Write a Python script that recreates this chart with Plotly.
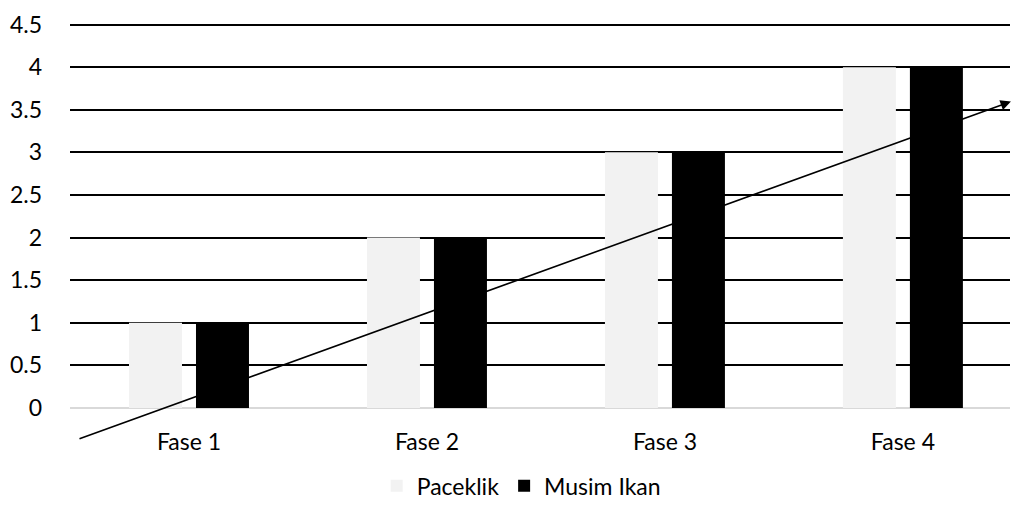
import plotly.graph_objects as go

# Data
fase = ["Fase 1", "Fase 2", "Fase 3", "Fase 4"]
paceklik = [1, 2, 3, 4]
musim_ikan = [1, 2, 3, 4]
y_ticks = [0, 0.5, 1, 1.5, 2, 2.5, 3, 3.5, 4, 4.5]
y_tick_text = ["0", "0.5", "1", "1.5", "2", "2.5", "3", "3.5", "4", "4.5"]

FONT = "Lato, 'Open Sans', sans-serif"
FSIZE = 23

fig = go.Figure()
fig.add_trace(go.Bar(
    name="Paceklik", x=fase, y=paceklik,
    marker=dict(color="#f2f2f2", line=dict(width=0)),
))
fig.add_trace(go.Bar(
    name="Musim Ikan", x=fase, y=musim_ikan,
    marker=dict(color="#000000", line=dict(width=0)),
))

# trend arrow across the plot
fig.add_annotation(
    xref="x domain", yref="y domain", axref="x domain", ayref="y domain",
    x=1.001, y=0.794, ax=0.0085, ay=-0.081,
    showarrow=True, arrowhead=2, arrowsize=1.3, arrowwidth=1.6,
    arrowcolor="#000000", text="",
)

fig.update_layout(
    width=1011, height=506,
    margin=dict(l=70, r=1, t=22, b=98, autoexpand=False),
    paper_bgcolor="white", plot_bgcolor="white",
    barmode="group", bargap=0.437, bargroupgap=0.209,
    font=dict(family=FONT, size=FSIZE, color="#000000"),
    showlegend=True,
    legend=dict(
        orientation="h", xanchor="center", x=0.48,
        yref="container", yanchor="middle", y=0.04,
        font=dict(family=FONT, size=FSIZE, color="#000000"),
        itemwidth=30, traceorder="normal",
    ),
    xaxis=dict(
        range=[-0.5, 3.45], showgrid=False, showline=False, zeroline=False,
        automargin=False,
        ticks="", tickfont=dict(family=FONT, size=FSIZE), ticklabelstandoff=18,
    ),
    yaxis=dict(
        range=[0, 4.53], tickvals=y_ticks, ticktext=y_tick_text,
        automargin=False,
        showgrid=True, gridcolor="#000000", gridwidth=1.5,
        zeroline=True, zerolinecolor="#d9d9d9", zerolinewidth=1.5,
        showline=False, ticks="", ticklabelstandoff=27,
        tickfont=dict(family=FONT, size=FSIZE),
    ),
)

fig.write_html("out.html")
